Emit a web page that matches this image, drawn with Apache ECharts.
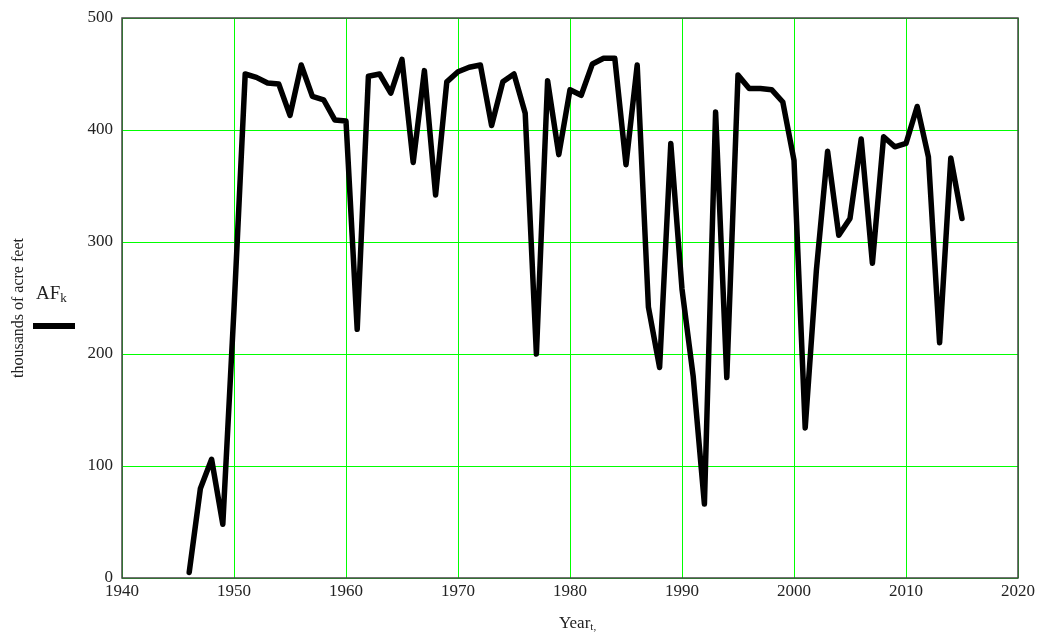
<!DOCTYPE html>
<html>
<head>
<meta charset="utf-8">
<script src="https://cdn.jsdelivr.net/npm/echarts@6/dist/echarts.min.js"></script>
<style>
html,body{margin:0;padding:0;background:#fff;}
#chart{width:1043px;height:632px;}
</style>
</head>
<body>
<div id="chart"></div>
<script>
const years = [];
for (let y = 1946; y <= 2015; y++) years.push(y);
const afValues = [
  5, 80, 106, 48, 240, 450, 447, 442, 441, 413,
  458, 430, 427, 409, 408, 222, 448, 450, 433, 463,
  371, 453, 342, 443, 452, 456, 458, 404, 443, 450,
  415, 200, 444, 378, 436, 431, 459, 464, 464, 369,
  458, 242, 188, 388, 258, 180, 66, 416, 179, 449,
  437, 437, 436, 425, 373, 134, 275, 381, 306, 321,
  392, 281, 394, 385, 388, 421, 376, 210, 375, 321
];
const xTicks = [1940, 1950, 1960, 1970, 1980, 1990, 2000, 2010, 2020];
const yTicks = [0, 100, 200, 300, 400, 500];
const yTitle = 'thousands of acre feet';
const xTitle = 'Year';
const xTitleSub = 't,';
const seriesName = 'AF';
const seriesSub = 'k';

const chart = echarts.init(document.getElementById('chart'));
const font = '"Liberation Serif", "Times New Roman", serif';
const txtColor = '#222';
const G = {left: 122, top: 18, width: 896, height: 560};
chart.setOption({
  animation: false,
  backgroundColor: '#fff',
  grid: {left: G.left, top: G.top, width: G.width, height: G.height, show: false},
  xAxis: {
    type: 'value', min: xTicks[0], max: xTicks[xTicks.length - 1], interval: 10,
    axisLine: {show: false},
    axisTick: {show: false},
    splitLine: {show: true, lineStyle: {color: '#00ff00', width: 1}},
    axisLabel: {color: txtColor, fontFamily: font, fontSize: 17, margin: 5,
      formatter: v => String(v)}
  },
  yAxis: {
    type: 'value', min: yTicks[0], max: yTicks[yTicks.length - 1], interval: 100,
    axisLine: {show: false},
    axisTick: {show: false},
    splitLine: {show: true, lineStyle: {color: '#00ff00', width: 1}},
    axisLabel: {color: txtColor, fontFamily: font, fontSize: 17, margin: 9,
      formatter: v => String(v)}
  },
  series: [{
    type: 'line',
    data: years.map((y, i) => [y, afValues[i]]),
    showSymbol: false,
    lineStyle: {color: '#000', width: 5.5, join: 'round', cap: 'round'},
    clip: false,
    z: 5
  }],
  graphic: [
    {type: 'rect', z: 100, silent: true,
      shape: {x: G.left, y: G.top, width: G.width, height: G.height},
      style: {fill: 'none', stroke: '#444', lineWidth: 1.5}},
    {type: 'text', x: 19, y: 378, rotation: Math.PI / 2,
      style: {text: yTitle, fill: txtColor, font: '16px ' + font, align: 'left', verticalAlign: 'middle'}},
    {type: 'text', x: 36, y: 284,
      style: {text: '{a|' + seriesName + '}{b|' + seriesSub + '}', fill: txtColor,
        rich: {a: {fontFamily: font, fontSize: 19, fill: txtColor},
               b: {fontFamily: font, fontSize: 13, fill: txtColor, padding: [8, 0, 0, 0]}}}},
    {type: 'line', shape: {x1: 33, y1: 326, x2: 75, y2: 326}, style: {stroke: '#000', lineWidth: 6}},
    {type: 'text', x: 559, y: 614,
      style: {text: '{a|' + xTitle + '}{b|' + xTitleSub + '}', fill: txtColor,
        rich: {a: {fontFamily: font, fontSize: 17, fill: txtColor},
               b: {fontFamily: font, fontSize: 11, fill: txtColor, padding: [8, 0, 0, 0]}}}}
  ]
});
</script>
</body>
</html>
